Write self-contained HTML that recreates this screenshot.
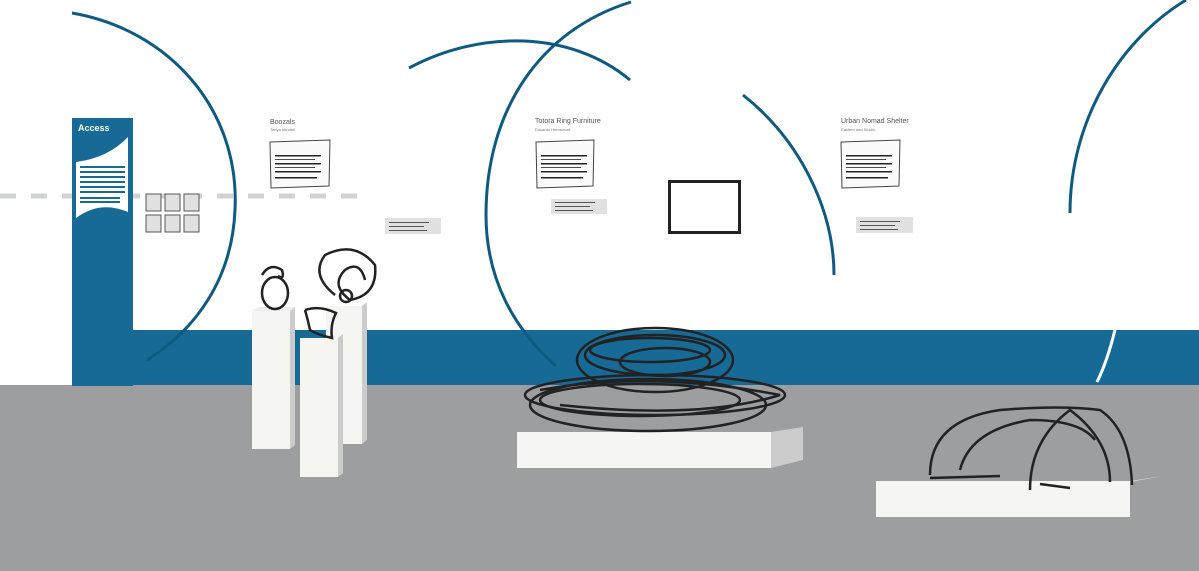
<!DOCTYPE html>
<html><head><meta charset="utf-8"><style>
html,body{margin:0;padding:0;background:#fff;}
svg{display:block;font-family:"Liberation Sans",sans-serif;}
</style></head><body>
<svg width="1199" height="571" viewBox="0 0 1199 571" xmlns="http://www.w3.org/2000/svg">
<rect width="1199" height="571" fill="#fff"/>
<rect x="133" y="330" width="1066" height="56" fill="#176a96"/>
<rect x="0" y="385" width="1199" height="186" fill="#9d9ea0"/>
<line x1="0" y1="196" x2="360" y2="196" stroke="#d2d3d4" stroke-width="5" stroke-dasharray="16,15"/>
<g fill="none" stroke="#0f5a80" stroke-width="3">
<path d="M72 13 C170 30 240 110 235 210 C232 280 195 330 147 360"/>
<path d="M409 68 C480 30 570 30 630 80"/>
<path d="M631 2 C540 30 486 110 486 215 C486 280 515 330 556 366"/>
<path d="M743 95 C800 140 834 210 834 275"/>
<path d="M1186 0 C1120 40 1070 120 1070 213"/>
</g>
<path d="M1115 330 C1110 350 1104 368 1097 382" fill="none" stroke="#fff" stroke-width="3"/>
<rect x="72" y="118" width="61" height="268" fill="#176a96"/>
<text x="78" y="131" font-size="9" fill="#fff" font-weight="bold">Access</text>
<path d="M76 162 Q108 158 128 137 L128 212 Q100 200 76 218 Z" fill="#fff"/>
<g fill="#176a96">
<rect x="80" y="166" width="45" height="2"/><rect x="80" y="171" width="45" height="2"/>
<rect x="80" y="176" width="45" height="2"/><rect x="80" y="181" width="45" height="2"/>
<rect x="80" y="186" width="45" height="2"/><rect x="80" y="191" width="45" height="2"/>
<rect x="80" y="197" width="40" height="2"/><rect x="80" y="201" width="40" height="2"/>
</g>
<g fill="#e2e1e2" stroke="#555" stroke-width="1">
<rect x="146" y="194" width="15" height="17"/><rect x="165" y="194" width="15" height="17"/><rect x="184" y="194" width="15" height="17"/>
<rect x="146" y="215" width="15" height="17"/><rect x="165" y="215" width="15" height="17"/><rect x="184" y="215" width="15" height="17"/>
</g>
<g font-size="7" fill="#555">
<text x="270" y="124">Boozals</text>
<text x="535" y="123">Totora Ring  Furniture</text>
<text x="841" y="123">Urban Nomad Shelter</text>
</g>
<g font-size="4" fill="#777">
<text x="270" y="131">Tanya Vandeli</text>
<text x="535" y="131">Eduardo Hinostroza</text>
<text x="841" y="131">Eastern and Studio</text>
</g>
<g fill="#fbfbfb" stroke="#444" stroke-width="1">
<path d="M270 142 L330 140 L329 186 L271 188 Z"/>
<path d="M536 142 L594 140 L593 186 L537 188 Z"/>
<path d="M841 142 L900 140 L899 186 L842 188 Z"/>
</g>
<g fill="#222">
<rect x="275" y="155" width="46" height="1.5"/><rect x="275" y="159" width="40" height="0.8"/><rect x="275" y="163" width="46" height="1.5"/><rect x="275" y="167" width="40" height="0.8"/><rect x="275" y="171" width="46" height="1.5"/><rect x="275" y="177" width="42" height="1.5"/>
<rect x="541" y="155" width="46" height="1.5"/><rect x="541" y="159" width="40" height="0.8"/><rect x="541" y="163" width="46" height="1.5"/><rect x="541" y="167" width="40" height="0.8"/><rect x="541" y="171" width="46" height="1.5"/><rect x="541" y="177" width="42" height="1.5"/>
<rect x="846" y="155" width="46" height="1.5"/><rect x="846" y="159" width="40" height="0.8"/><rect x="846" y="163" width="46" height="1.5"/><rect x="846" y="167" width="40" height="0.8"/><rect x="846" y="171" width="46" height="1.5"/><rect x="846" y="177" width="42" height="1.5"/>
</g>
<g fill="#e2e0e1">
<rect x="385" y="218" width="56" height="16"/>
<rect x="551" y="199" width="56" height="15"/>
<rect x="856" y="217" width="57" height="16"/>
</g>
<g fill="#555">
<rect x="389" y="222" width="40" height="1"/><rect x="389" y="226" width="35" height="1"/><rect x="389" y="230" width="38" height="1"/>
<rect x="555" y="202" width="40" height="1"/><rect x="555" y="206" width="35" height="1"/><rect x="555" y="210" width="38" height="1"/>
<rect x="860" y="221" width="40" height="1"/><rect x="860" y="225" width="35" height="1"/><rect x="860" y="229" width="38" height="1"/>
</g>
<rect x="669.5" y="181.5" width="70" height="51" fill="#fff" stroke="#222" stroke-width="3"/>
<g>
<rect x="252" y="311" width="38" height="138" fill="#f5f5f2"/><polygon points="290,311 295,307 295,445 290,449" fill="#ccc"/>
<rect x="326" y="306" width="36" height="138" fill="#f5f5f2"/><polygon points="362,306 367,302 367,440 362,444" fill="#ccc"/>
<rect x="300" y="338" width="38" height="139" fill="#f5f5f2"/><polygon points="338,338 343,334 343,473 338,477" fill="#ccc"/>
<polygon points="252,311 258,307 295,307 290,311" fill="#eee"/>
<rect x="517" y="432" width="254" height="36" fill="#f5f5f2"/><polygon points="771,432 803,427 803,460 771,468" fill="#ccc"/>
<rect x="876" y="481" width="254" height="36" fill="#f5f5f2"/><polygon points="1130,481 1162,476 1130,482" fill="#ddd"/>
</g>
<g fill="none" stroke="#222" stroke-width="2.5">
<ellipse cx="275" cy="293" rx="13" ry="16"/>
<path d="M262 275 Q270 262 282 270 Q285 280 278 276"/>
<path d="M335 295 Q310 275 325 255 Q355 240 375 265 Q378 295 350 300 Q330 285 345 270 Q360 260 365 280"/>
<circle cx="346" cy="296" r="6"/>
<path d="M305 310 Q320 305 336 313 Q330 325 332 338 Q318 335 310 330 Q308 320 305 310"/>
<ellipse cx="648" cy="405" rx="118" ry="26"/>
<ellipse cx="655" cy="395" rx="130" ry="20"/>
<ellipse cx="640" cy="400" rx="100" ry="16"/>
<ellipse cx="655" cy="360" rx="78" ry="32"/>
<ellipse cx="655" cy="355" rx="70" ry="20"/>
<ellipse cx="665" cy="362" rx="45" ry="14"/>
<ellipse cx="650" cy="350" rx="60" ry="12"/>
<path d="M540 390 Q650 370 780 395 Q700 420 560 405"/>
<path d="M930 475 Q930 420 1000 410 Q1060 405 1100 410 Q1130 430 1132 485"/>
<path d="M960 470 Q970 430 1030 420 Q1080 420 1095 440"/>
<path d="M1030 490 Q1030 440 1070 410 Q1110 440 1110 482"/>
<path d="M930 478 L1000 476 M1040 484 L1070 488"/>
</g>
</svg>
</body></html>
